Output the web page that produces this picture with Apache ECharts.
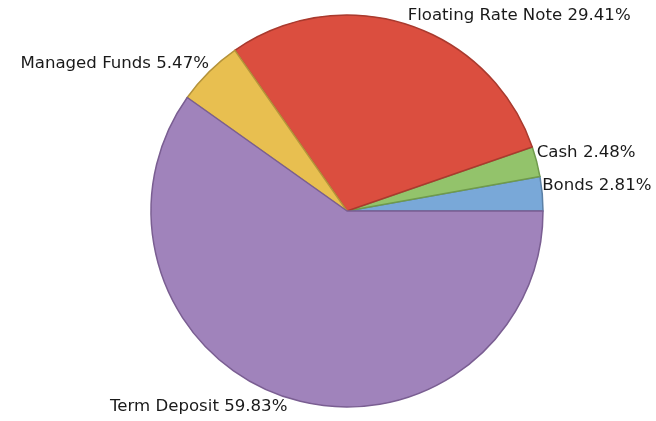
<!DOCTYPE html>
<html>
<head>
<meta charset="utf-8">
<script src="https://cdn.jsdelivr.net/npm/echarts@6/dist/echarts.min.js"></script>
<style>
  html, body { margin: 0; padding: 0; background: #fff; }
  #chart { width: 656px; height: 421px; }
</style>
</head>
<body>
<div id="chart"></div>
<script>
// Portfolio allocation by asset class (percent of total)
const categories = ['Bonds', 'Cash', 'Floating Rate Note', 'Managed Funds', 'Term Deposit'];
const values = [2.81, 2.48, 29.41, 5.47, 59.83];
const fillColors = ['#79a8d8', '#93c36b', '#db4e3f', '#e8bf50', '#a083bb'];
const borderColors = ['#5b80a6', '#6f9a4c', '#a93a2e', '#b5933a', '#7a5e92'];

const total = values.reduce((a, b) => a + b, 0);
// mid angle of each slice (degrees, counter-clockwise from 3 o'clock)
const midAngles = [];
let acc = 0;
values.forEach(v => {
  const span = v / total * 360;
  midAngles.push(acc + span / 2);
  acc += span;
});

const chart = echarts.init(document.getElementById('chart'), null, { renderer: 'canvas' });
chart.setOption({
  animation: false,
  series: [{
    type: 'pie',
    center: [347, 211],
    radius: [0, 196],
    startAngle: 0,
    clockwise: false,
    avoidLabelOverlap: false,
    data: categories.map((name, i) => ({
      name: name,
      value: values[i],
      itemStyle: { color: fillColors[i], borderColor: borderColors[i], borderWidth: 1.5 }
    })),
    label: {
      show: true,
      position: 'outside',
      distanceToLabelLine: 0,
      formatter: p => p.name + ' ' + p.value.toFixed(2) + '%',
      fontFamily: '"DejaVu Sans", Verdana, sans-serif',
      fontSize: 16.6,
      color: '#1a1a1a'
    },
    labelLine: { show: false, length: 0, length2: 0 },
    labelLayout: function (p) {
      const a = midAngles[p.dataIndex] * Math.PI / 180;
      const h = p.labelRect.height / 2;
      return { dy: Math.sin(a) > 0 ? -h : h };
    },
    emphasis: { disabled: true }
  }]
});
</script>
</body>
</html>
